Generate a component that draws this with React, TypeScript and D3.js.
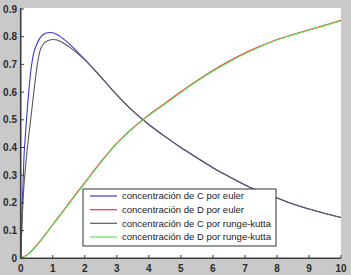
import React from "react";
import * as d3 from "d3";

const W = 351;
const H = 275;

const xTicks = [0, 1, 2, 3, 4, 5, 6, 7, 8, 9, 10];
const yTicks = [0, 0.1, 0.2, 0.3, 0.4, 0.5, 0.6, 0.7, 0.8, 0.9];

const tC = [0, 0.05, 0.1, 0.15, 0.2, 0.25, 0.3, 0.35, 0.4, 0.5, 0.6, 0.7, 0.8, 0.9, 1.0, 1.1, 1.2, 1.4, 1.6, 1.8, 2.0, 2.5, 3, 3.5, 4, 4.5, 5, 5.5, 6, 6.5, 7, 7.5, 8, 8.5, 9, 9.5, 10];
const cEuler = [0, 0.2, 0.36, 0.45, 0.53, 0.6, 0.66, 0.705, 0.738, 0.772, 0.795, 0.807, 0.813, 0.815, 0.814, 0.81, 0.803, 0.786, 0.765, 0.742, 0.718, 0.655, 0.59, 0.532, 0.483, 0.44, 0.4, 0.363, 0.327, 0.295, 0.265, 0.24, 0.218, 0.196, 0.178, 0.162, 0.147];
const cRK = [0, 0.15, 0.26, 0.33, 0.39, 0.44, 0.49, 0.54, 0.59, 0.685, 0.748, 0.772, 0.783, 0.788, 0.79, 0.789, 0.785, 0.772, 0.756, 0.737, 0.716, 0.655, 0.59, 0.532, 0.483, 0.44, 0.4, 0.363, 0.327, 0.295, 0.265, 0.24, 0.218, 0.196, 0.178, 0.162, 0.147];

const tD = [0, 0.25, 0.5, 0.75, 1, 1.25, 1.5, 1.75, 2, 2.5, 3, 3.5, 4, 4.5, 5, 5.5, 6, 6.5, 7, 7.5, 8, 8.5, 9, 9.5, 10];
const dEuler = [0, 0.017, 0.048, 0.084, 0.122, 0.16, 0.198, 0.236, 0.273, 0.348, 0.416, 0.471, 0.518, 0.559, 0.601, 0.641, 0.678, 0.711, 0.741, 0.767, 0.79, 0.808, 0.825, 0.842, 0.859];
const dRK = [0, 0.015, 0.045, 0.081, 0.12, 0.157, 0.195, 0.233, 0.27, 0.345, 0.413, 0.468, 0.515, 0.556, 0.598, 0.638, 0.675, 0.708, 0.738, 0.765, 0.788, 0.806, 0.823, 0.84, 0.857];

const legendLabels = [
  "concentración de C por euler",
  "concentración de D por euler",
  "concentración de C por runge-kutta",
  "concentración de D por runge-kutta",
];
const colors = ["#3a3acc", "#f03030", "#5a5a5a", "#5de85d"];

export default function App() {
  const x = d3.scaleLinear().domain([0, 10]).range([20.7, 341]);
  const y = d3.scaleLinear().domain([0, 0.9]).range([258.3, 9]);
  const line = d3
    .line<[number, number]>()
    .x((d) => x(d[0]))
    .y((d) => y(d[1]))
    .curve(d3.curveMonotoneX);

  const series: { t: number[]; v: number[] }[] = [
    { t: tC, v: cEuler },
    { t: tD, v: dEuler },
    { t: tC, v: cRK },
    { t: tD, v: dRK },
  ];

  const font = "'Liberation Sans', Arial, sans-serif";
  const lx = 83;
  const ly = 189;
  const entryY = [196, 209.7, 223.3, 237];

  return (
    <svg
      width={W}
      height={H}
      style={{ position: "absolute", left: 0, top: 0, display: "block" }}
    >
      <rect x={0} y={0} width={W} height={H} fill="#c9c9c9" />
      <rect x={20.7} y={8} width={341 - 20.7} height={258.3 - 8} fill="#ffffff" />
      {series.map((s, i) => (
        <path
          key={i}
          d={line(s.t.map((t, j) => [t, s.v[j]] as [number, number])) || ""}
          fill="none"
          stroke={colors[i]}
          strokeWidth={1.1}
        />
      ))}
      {/* axes */}
      <line x1={20.7} x2={20.7} y1={8} y2={258.8} stroke="#3c3c3c" strokeWidth={1.6} />
      <line x1={20} x2={341} y1={258.3} y2={258.3} stroke="#3c3c3c" strokeWidth={1.4} />
      {xTicks.map((t) => (
        <g key={"x" + t}>
          <line x1={x(t)} x2={x(t)} y1={258.3} y2={255} stroke="#3c3c3c" strokeWidth={1} />
          <text
            x={x(t)}
            y={272}
            textAnchor="middle"
            fontFamily={font}
            fontSize={10}
            fontWeight="bold"
            fill="#2a2a2a"
          >
            {t}
          </text>
        </g>
      ))}
      {yTicks.map((t) => (
        <g key={"y" + t}>
          <line x1={20.7} x2={24} y1={y(t)} y2={y(t)} stroke="#3c3c3c" strokeWidth={1} />
          <text
            x={17}
            y={y(t) + 3.5}
            textAnchor="end"
            fontFamily={font}
            fontSize={10}
            fontWeight="bold"
            fill="#2a2a2a"
          >
            {t === 0 ? "0" : t.toFixed(1)}
          </text>
        </g>
      ))}
      {/* legend */}
      <rect x={lx} y={ly} width={193} height={57} fill="#ffffff" stroke="#333333" strokeWidth={1} />
      {legendLabels.map((lab, i) => (
        <g key={lab}>
          <line x1={90} x2={117} y1={entryY[i]} y2={entryY[i]} stroke={colors[i]} strokeWidth={1.2} />
          <text x={122} y={entryY[i] + 3.2} fontFamily={font} fontSize={9.5} fill="#222222">
            {lab}
          </text>
        </g>
      ))}
    </svg>
  );
}
